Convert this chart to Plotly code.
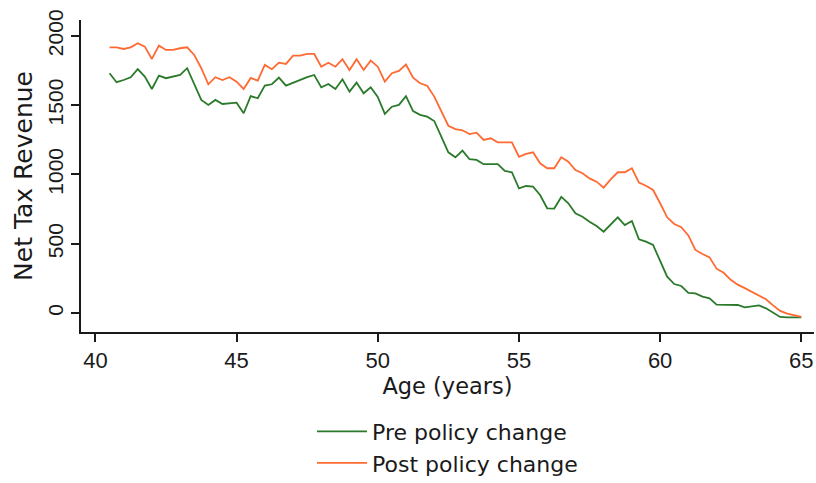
import numpy as np
import plotly.graph_objects as go

# Age grid: quarterly steps from 40.5 to 65
age = np.round(np.arange(40.5, 65.0001, 0.25), 2).tolist()

pre_policy = [
    1731, 1666, 1682, 1702, 1760, 1706, 1617, 1713, 1695, 1706,
    1718, 1767, 1658, 1538, 1502, 1538, 1509, 1515, 1518, 1442,
    1565, 1550, 1641, 1651, 1699, 1641, 1663, 1682, 1702, 1718,
    1629, 1653, 1617, 1687, 1598, 1663, 1586, 1629, 1560, 1437,
    1489, 1502, 1565, 1458, 1430, 1417, 1386, 1273, 1160, 1124,
    1172, 1110, 1105, 1074, 1074, 1074, 1025, 1016, 900, 917,
    912, 852, 756, 754, 838, 792, 720, 695, 659, 628,
    587, 643, 691, 635, 664, 532, 515, 491, 370, 262,
    209, 195, 145, 142, 118, 106, 60, 58, 58, 58,
    41, 50, 55, 34, 2, -28, -31, -31, -31,
]

post_policy = [
    1918, 1918, 1906, 1918, 1947, 1923, 1834, 1930, 1899, 1899,
    1911, 1918, 1863, 1767, 1651, 1702, 1682, 1702, 1670, 1617,
    1697, 1677, 1791, 1760, 1807, 1798, 1858, 1858, 1870, 1870,
    1778, 1807, 1778, 1832, 1754, 1832, 1754, 1822, 1778, 1670,
    1731, 1747, 1794, 1699, 1658, 1641, 1562, 1453, 1352, 1328,
    1319, 1292, 1302, 1249, 1261, 1232, 1232, 1232, 1128, 1148,
    1160, 1081, 1045, 1045, 1124, 1092, 1032, 1009, 972, 948,
    905, 965, 1016, 1016, 1045, 941, 919, 888, 792, 691,
    643, 619, 560, 455, 426, 402, 320, 290, 240, 205,
    180, 154, 130, 99, 55, 15, -5, -18, -27,
]

y_ticks = [0, 500, 1000, 1500, 2000]
x_ticks = [40, 45, 50, 55, 60, 65]

GREEN = "#2b7a2b"
ORANGE = "#ff6a33"
INK = "#1a1a1a"
FONT = "Liberation Sans"
TITLE_FONT = "DejaVu Sans"

fig = go.Figure()
fig.add_trace(go.Scatter(x=age, y=pre_policy, mode="lines", name="Pre policy change",
                         line=dict(color=GREEN, width=1.8)))
fig.add_trace(go.Scatter(x=age, y=post_policy, mode="lines", name="Post policy change",
                         line=dict(color=ORANGE, width=1.8)))

fig.update_layout(
    width=816, height=483,
    margin=dict(l=81, r=2, t=20, b=151),
    paper_bgcolor="white", plot_bgcolor="white",
    font=dict(family=FONT, size=21, color=INK),
    showlegend=True,
    legend=dict(
        orientation="v", x=0.5, xanchor="center",
        yref="container", y=0.15, yanchor="top",
        font=dict(family="DejaVu Sans", size=22, color=INK),
        bgcolor="rgba(0,0,0,0)", tracegroupgap=0, itemwidth=50,
    ),
    xaxis=dict(
        range=[39.49, 65.45], tickvals=x_ticks, ticktext=[str(t) for t in x_ticks],
        showgrid=False, zeroline=False, showline=True, linecolor=INK, linewidth=1.6,
        ticks="outside", ticklen=8, tickwidth=1.6, tickcolor=INK,
        tickfont=dict(size=22),
        title=dict(text="Age (years)", font=dict(family=TITLE_FONT, size=22.5), standoff=2),
    ),
    yaxis=dict(
        range=[-137, 2115], tickvals=y_ticks, ticktext=[str(t) for t in y_ticks],
        showgrid=False, zeroline=False, showline=True, linecolor=INK, linewidth=1.6,
        ticks="outside", ticklen=8, tickwidth=1.6, tickcolor=INK,
        tickangle=-90, tickfont=dict(size=21),
        title=dict(text="Net Tax Revenue", font=dict(family=TITLE_FONT, size=25), standoff=4),
    ),
)

fig.write_html("out.html")
